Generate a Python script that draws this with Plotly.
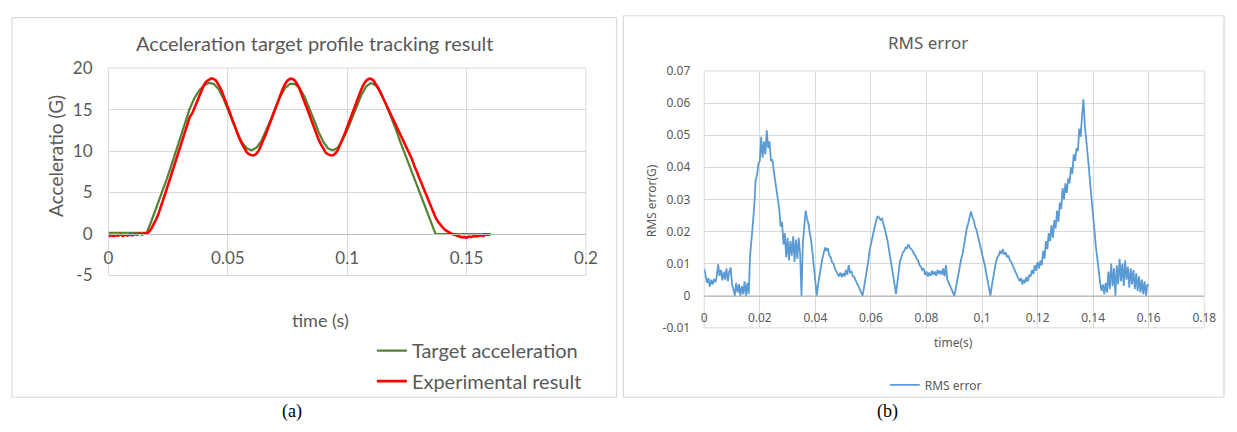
import plotly.graph_objects as go

# ---------------- data ----------------
# (a) acceleration tracking
target_t = [0.000, 0.016, 0.018, 0.020, 0.022, 0.024, 0.026, 0.028, 0.030, 0.032,
            0.034, 0.036, 0.038, 0.040, 0.042, 0.044, 0.046, 0.048, 0.050, 0.052,
            0.054, 0.056, 0.058, 0.060, 0.062, 0.064, 0.066, 0.068, 0.070, 0.072,
            0.074, 0.076, 0.078, 0.080, 0.082, 0.084, 0.086, 0.088, 0.090, 0.092,
            0.094, 0.096, 0.098, 0.100, 0.102, 0.104, 0.106, 0.108, 0.110, 0.112,
            0.114, 0.116, 0.118, 0.120, 0.122, 0.124, 0.126, 0.128, 0.130, 0.132,
            0.134, 0.136, 0.137, 0.160]
target_acc = [0.15, 0.15, 1.6, 3.1, 4.6, 6.3, 8.0, 9.8, 11.6, 13.4,
              15.1, 16.4, 17.3, 17.9, 18.2, 18.1, 17.5, 16.4, 15.0, 13.5,
              12.1, 11.0, 10.3, 10.1, 10.4, 11.2, 12.4, 13.8, 15.3, 16.6,
              17.6, 18.1, 18.1, 17.6, 16.6, 15.3, 13.8, 12.3, 11.1, 10.3,
              10.1, 10.4, 11.3, 12.5, 14.0, 15.5, 16.8, 17.8, 18.2, 17.9,
              17.1, 15.8, 14.4, 12.9, 11.3, 9.8, 8.2, 6.7, 5.1, 3.6,
              2.1, 0.6, 0.0, 0.0]

exp_dt = 0.001
exp_acc = [-0.30, -0.10, -0.25, -0.15, -0.20, -0.05, -0.25, -0.10, -0.20, -0.05,
           -0.15, 0.00, -0.10, 0.10, -0.05, 0.10, 0.05, 0.30, 0.70, 1.20,
           1.80, 2.50, 3.30, 4.20, 5.10, 6.00, 6.90, 7.90, 8.80, 9.70,
           10.60, 11.50, 12.40, 13.30, 14.10, 14.50, 15.20, 16.00, 16.80, 17.50,
           18.00, 18.40, 18.60, 18.75, 18.70, 18.50, 18.00, 17.50, 16.80, 16.10,
           15.30, 14.50, 13.70, 12.90, 12.10, 11.40, 10.80, 10.20, 9.80, 9.60,
           9.50, 9.50, 9.70, 10.10, 10.70, 11.40, 12.10, 12.90, 13.70, 14.50,
           15.30, 16.10, 16.80, 17.50, 18.10, 18.50, 18.70, 18.70, 18.50, 18.10,
           17.50, 16.80, 16.10, 15.30, 14.50, 13.70, 12.90, 12.10, 11.40, 10.80,
           10.20, 9.80, 9.60, 9.50, 9.50, 9.70, 10.10, 10.70, 11.40, 12.10,
           12.90, 13.70, 14.50, 15.30, 16.10, 16.80, 17.50, 18.10, 18.50, 18.70,
           18.70, 18.50, 18.10, 17.60, 17.00, 16.40, 15.70, 15.10, 14.60, 14.00,
           13.40, 12.80, 12.20, 11.60, 11.00, 10.40, 9.80, 9.10, 8.30, 7.60,
           6.80, 6.10, 5.40, 4.70, 4.00, 3.30, 2.60, 2.00, 1.50, 1.10,
           0.80, 0.50, 0.30, 0.15, 0.00, -0.10, -0.25, -0.30, -0.40, -0.35,
           -0.45, -0.30, -0.35, -0.25, -0.30, -0.20, -0.15, -0.25, -0.05, -0.10,
           0.00]
exp_t = [round(i * exp_dt, 4) for i in range(len(exp_acc))]

acc_xticks = [0, 0.05, 0.1, 0.15, 0.2]
acc_xtick_text = ["0", "0.05", "0.1", "0.15", "0.2"]
acc_yticks = [-5, 0, 5, 10, 15, 20]
acc_ytick_text = ["-5", "0", "5", "10", "15", "20"]

# (b) RMS error
rms_dt = 0.0005
rms_err = [
    0.0084, 0.0060, 0.0040, 0.0055, 0.0028, 0.0050, 0.0035, 0.0052, 0.0042, 0.0060,
    0.0098, 0.0062, 0.0080, 0.0048, 0.0075, 0.0050, 0.0085, 0.0045, 0.0075, 0.0088,
    0.0035, 0.0020, 0.0000, 0.0040, 0.0010, 0.0035, 0.0000, 0.0030, 0.0005, 0.0045,
    0.0000, 0.0040, 0.0005, 0.0125, 0.0190, 0.0225, 0.0280, 0.0360, 0.0375, 0.0410,
    0.0420, 0.0495, 0.0430, 0.0480, 0.0440, 0.0515, 0.0460, 0.0480, 0.0420, 0.0425,
    0.0390, 0.0360, 0.0320, 0.0290, 0.0270, 0.0215, 0.0230, 0.0160, 0.0195, 0.0120,
    0.0180, 0.0110, 0.0170, 0.0125, 0.0185, 0.0105, 0.0175, 0.0115, 0.0180, 0.0130,
    0.0000, 0.0165, 0.0230, 0.0265, 0.0240, 0.0225, 0.0195, 0.0170, 0.0130, 0.0090,
    0.0060, 0.0000, 0.0035, 0.0070, 0.0090, 0.0115, 0.0135, 0.0150, 0.0140, 0.0148,
    0.0125, 0.0120, 0.0105, 0.0100, 0.0085, 0.0075, 0.0068, 0.0060, 0.0072, 0.0058,
    0.0070, 0.0060, 0.0080, 0.0065, 0.0095, 0.0072, 0.0075, 0.0060, 0.0058, 0.0045,
    0.0038, 0.0030, 0.0018, 0.0008, 0.0000, 0.0025, 0.0050, 0.0072, 0.0105, 0.0140,
    0.0165, 0.0180, 0.0200, 0.0220, 0.0238, 0.0248, 0.0242, 0.0236, 0.0240, 0.0225,
    0.0210, 0.0190, 0.0170, 0.0145, 0.0115, 0.0090, 0.0065, 0.0035, 0.0005, 0.0045,
    0.0085, 0.0110, 0.0120, 0.0135, 0.0140, 0.0150, 0.0148, 0.0160, 0.0150, 0.0145,
    0.0140, 0.0130, 0.0125, 0.0115, 0.0110, 0.0095, 0.0090, 0.0080, 0.0085, 0.0065,
    0.0075, 0.0060, 0.0072, 0.0062, 0.0078, 0.0065, 0.0075, 0.0062, 0.0080, 0.0068,
    0.0078, 0.0065, 0.0085, 0.0060, 0.0095, 0.0050, 0.0040, 0.0030, 0.0020, 0.0008,
    0.0000, 0.0020, 0.0045, 0.0070, 0.0095, 0.0115, 0.0130, 0.0160, 0.0195, 0.0210,
    0.0225, 0.0245, 0.0262, 0.0245, 0.0235, 0.0215, 0.0205, 0.0185, 0.0170, 0.0150,
    0.0130, 0.0115, 0.0095, 0.0070, 0.0045, 0.0025, 0.0000, 0.0030, 0.0060, 0.0085,
    0.0105, 0.0120, 0.0125, 0.0140, 0.0130, 0.0145, 0.0128, 0.0135, 0.0120, 0.0125,
    0.0110, 0.0105, 0.0095, 0.0085, 0.0080, 0.0065, 0.0060, 0.0045, 0.0055, 0.0035,
    0.0050, 0.0040, 0.0058, 0.0045, 0.0065, 0.0060, 0.0080, 0.0068, 0.0095, 0.0078,
    0.0105, 0.0085, 0.0110, 0.0095, 0.0140, 0.0115, 0.0170, 0.0145, 0.0195, 0.0170,
    0.0220, 0.0180, 0.0235, 0.0210, 0.0265, 0.0230, 0.0290, 0.0270, 0.0335, 0.0300,
    0.0350, 0.0320, 0.0365, 0.0350, 0.0400, 0.0380, 0.0440, 0.0420, 0.0460, 0.0450,
    0.0520, 0.0495, 0.0560, 0.0612, 0.0530, 0.0490, 0.0440, 0.0395, 0.0340, 0.0300,
    0.0240, 0.0200, 0.0150, 0.0120, 0.0080, 0.0040, 0.0015, 0.0035, 0.0005, 0.0040,
    0.0010, 0.0075, 0.0020, 0.0100, 0.0030, 0.0085, 0.0000, 0.0095, 0.0035, 0.0115,
    0.0045, 0.0100, 0.0030, 0.0110, 0.0050, 0.0090, 0.0025, 0.0085, 0.0035, 0.0080,
    0.0020, 0.0070, 0.0015, 0.0060, 0.0010, 0.0050, 0.0005, 0.0045, 0.0000, 0.0035,
    0.0030]
rms_t = [round(i * rms_dt, 5) for i in range(len(rms_err))]

rms_xticks = [0, 0.02, 0.04, 0.06, 0.08, 0.1, 0.12, 0.14, 0.16, 0.18]
rms_xtick_text = ["0", "0.02", "0.04", "0.06", "0.08", "0.1", "0.12", "0.14", "0.16", "0.18"]
rms_yticks = [-0.01, 0, 0.01, 0.02, 0.03, 0.04, 0.05, 0.06, 0.07]
rms_ytick_text = ["-0.01", "0", "0.01", "0.02", "0.03", "0.04", "0.05", "0.06", "0.07"]

# ---------------- layout helpers ----------------
W, H = 1237, 432
def px(x):
    return x / W
def py(y):
    return 1 - y / H

FA = "Lato, 'Open Sans', sans-serif"
FB = "'Noto Sans', 'Open Sans', sans-serif"
TXT = "#595959"
GRID = "#d9d9d9"

fig = go.Figure()
fig.add_trace(go.Scatter(x=target_t, y=target_acc, mode="lines", name="Target acceleration",
                         line=dict(color="#548235", width=2.2), xaxis="x", yaxis="y",
                         legend="legend"))
fig.add_trace(go.Scatter(x=exp_t, y=exp_acc, mode="lines", name="Experimental result",
                         line=dict(color="#FF0000", width=2.6), xaxis="x", yaxis="y",
                         legend="legend3"))
fig.add_trace(go.Scatter(x=rms_t, y=rms_err, mode="lines", name="RMS error",
                         line=dict(color="#5B9BD5", width=1.8), xaxis="x2", yaxis="y2",
                         legend="legend2"))

# plot-area pixel boxes
A_L, A_R, A_T, A_B = 105, 589, 60, 278
B_L, B_R, B_T, B_B = 709, 1216, 63, 333
a_zero = A_T + (20 - 0) / 25 * (A_B - A_T)
b_zero = B_T + (0.07 - 0) / 0.08 * (B_B - B_T)

fig.update_layout(
    width=W, height=H, margin=dict(l=0, r=0, t=0, b=0),
    paper_bgcolor="white", plot_bgcolor="white",
    xaxis=dict(domain=[px(A_L), px(A_R)], range=[0, 0.2], tickvals=acc_xticks,
               ticktext=acc_xtick_text, showgrid=True, gridcolor=GRID, gridwidth=1,
               zeroline=False, anchor="free", position=py(a_zero), showline=True,
               linecolor="#bfbfbf", linewidth=1, ticks="", ticklabelstandoff=9,
               tickfont=dict(family=FA, size=17, color=TXT)),
    yaxis=dict(domain=[py(A_B), py(A_T)], range=[-5, 20], tickvals=acc_yticks,
               ticktext=acc_ytick_text, showgrid=True, gridcolor=GRID, gridwidth=1,
               zeroline=False, anchor="free", position=px(A_L), showline=False,
               ticks="", ticklabelstandoff=16,
               tickfont=dict(family=FA, size=17, color=TXT)),
    xaxis2=dict(domain=[px(B_L), px(B_R)], range=[0, 0.18], tickvals=rms_xticks,
                ticktext=rms_xtick_text, showgrid=True, gridcolor=GRID, gridwidth=1,
                zeroline=False, anchor="free", position=py(b_zero), showline=True,
                linecolor="#bfbfbf", linewidth=1, ticks="", ticklabelstandoff=11,
                tickfont=dict(family=FB, size=12, color=TXT)),
    yaxis2=dict(domain=[py(B_B), py(B_T)], range=[-0.01, 0.07], tickvals=rms_yticks,
                ticktext=rms_ytick_text, showgrid=True, gridcolor=GRID, gridwidth=1,
                zeroline=False, anchor="free", position=px(B_L), showline=False,
                ticks="", ticklabelstandoff=14,
                tickfont=dict(family=FB, size=12, color=TXT)),
    legend=dict(x=px(372), y=py(357), xanchor="left", yanchor="middle",
                bgcolor="rgba(0,0,0,0)", font=dict(family=FA, size=20, color=TXT)),
    legend3=dict(x=px(372), y=py(389), xanchor="left", yanchor="middle",
                 bgcolor="rgba(0,0,0,0)", font=dict(family=FA, size=20, color=TXT)),
    legend2=dict(x=px(892), y=py(393), xanchor="left", yanchor="middle",
                 bgcolor="rgba(0,0,0,0)", font=dict(family=FB, size=12, color=TXT)),
    showlegend=True,
)

shapes = [
    # panel frames
    dict(type="rect", xref="paper", yref="paper", x0=px(7), x1=px(620), y0=py(406), y1=py(7),
         line=dict(color="#d9d9d9", width=1.2), layer="below"),
    dict(type="rect", xref="paper", yref="paper", x0=px(627), x1=px(1236), y0=py(406), y1=py(5),
         line=dict(color="#d9d9d9", width=1.2), layer="below"),
    # plot-area outlines
    dict(type="rect", xref="x domain", yref="y domain", x0=0, x1=1, y0=0, y1=1,
         line=dict(color=GRID, width=1), layer="below"),
    dict(type="rect", xref="x2 domain", yref="y2 domain", x0=0, x1=1, y0=0, y1=1,
         line=dict(color=GRID, width=1), layer="below"),
]
fig.update_layout(shapes=shapes)

ann = [
    dict(text="Acceleration target profile tracking result", x=px(314), y=py(34),
         font=dict(family=FA, size=20, color=TXT)),
    dict(text="Acceleratio (G)", x=px(51), y=py(152), textangle=-90,
         font=dict(family=FA, size=19, color=TXT)),
    dict(text="time (s)", x=px(320), y=py(325), font=dict(family=FA, size=18, color=TXT)),
    dict(text="RMS error", x=px(936), y=py(33), font=dict(family=FB, size=17, color=TXT)),
    dict(text="RMS error(G)", x=px(655), y=py(199), textangle=-90,
         font=dict(family=FB, size=12, color=TXT)),
    dict(text="time(s)", x=px(962), y=py(348), font=dict(family=FB, size=12, color=TXT)),
    dict(text="(a)", x=px(291), y=py(421), font=dict(family="'Liberation Serif', serif", size=18, color="#000000")),
    dict(text="(b)", x=px(895), y=py(421), font=dict(family="'Liberation Serif', serif", size=18, color="#000000")),
]
for a in ann:
    a.update(xref="paper", yref="paper", showarrow=False, xanchor="center", yanchor="middle")
fig.update_layout(annotations=ann)

fig.write_html("out.html")
